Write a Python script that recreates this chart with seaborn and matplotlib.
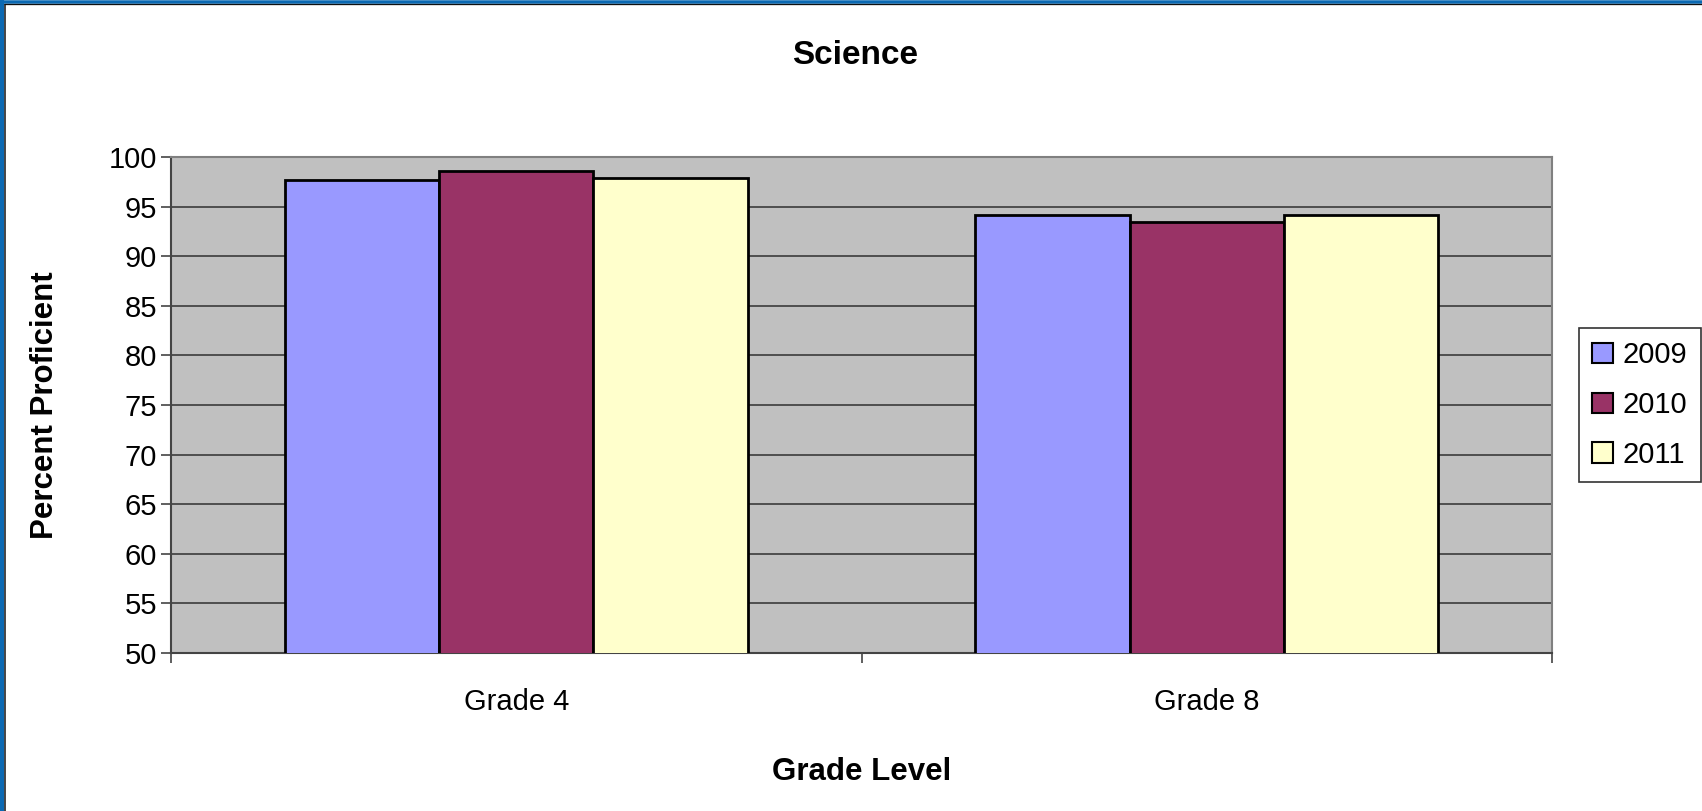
import matplotlib
matplotlib.use("Agg")
import matplotlib.pyplot as plt
from matplotlib.lines import Line2D
import seaborn as sns
import pandas as pd

categories = ["Grade 4", "Grade 8"]
years = ["2009", "2010", "2011"]
values_2009 = [97.7, 94.2]
values_2010 = [98.6, 93.4]
values_2011 = [97.9, 94.2]
yticks = list(range(50, 101, 5))
colors = ["#9999FF", "#993366", "#FFFFCC"]

rows = []
for yr, vals in zip(years, [values_2009, values_2010, values_2011]):
    for c, v in zip(categories, vals):
        rows.append({"Grade": c, "Year": yr, "Value": v})
df = pd.DataFrame(rows)

sns.set_theme(style="white")
plt.rcParams["font.family"] = ["Liberation Sans", "DejaVu Sans"]
plt.rcParams["text.color"] = "black"
plt.rcParams["axes.labelcolor"] = "black"
plt.rcParams["xtick.color"] = "black"
plt.rcParams["ytick.color"] = "black"

W, H = 1702, 811
fig = plt.figure(figsize=(W/100, H/100), dpi=100)
ax = fig.add_axes([171/W, 1 - 653/H, (1552-171)/W, (653-157)/H])
ax.set_facecolor("#C0C0C0")

sns.barplot(data=df, x="Grade", y="Value", hue="Year", palette=colors,
            width=0.67, edgecolor="black", linewidth=2, ax=ax,
            saturation=1, errorbar=None, zorder=3)

ax.set_ylim(50, 100)
ax.set_xlim(-0.5, 1.5)
ax.set_yticks(yticks)
ax.yaxis.grid(True, color="#303030", linewidth=1.1, zorder=0)
ax.set_axisbelow(True)
ax.tick_params(axis="y", which="major", length=7, width=1.2, color="#444444",
               labelcolor="black", direction="out", left=True, labelsize=21, pad=3)
ax.tick_params(axis="x", which="major", length=0, labelsize=21, pad=25,
               labelcolor="black")
ax.set_xticks([-0.5, 0.5, 1.5], minor=True)
ax.tick_params(axis="x", which="minor", length=7, width=1.2, color="#444444",
               direction="out", bottom=True)
for s in ax.spines.values():
    s.set_color("#808080")
    s.set_linewidth(1.5)
ax.spines["left"].set_color("#444444")
ax.spines["bottom"].set_color("#444444")

ax.set_xlabel("Grade Level", fontsize=22.5, fontweight="bold", color="black")
ax.set_ylabel("Percent Proficient", fontsize=22.5, fontweight="bold", color="black")
ax.xaxis.set_label_coords(0.5, (653-757)/496)
ax.yaxis.set_label_coords((60-171)/1381, 0.5)

fig.text(855/W, 1 - 55/H, "Science", fontsize=24, fontweight="bold",
         ha="center", va="center", color="black")

leg = ax.legend(loc="upper left", bbox_to_anchor=(1579/W, 1 - 328/H),
                bbox_transform=fig.transFigure, fontsize=21, frameon=True,
                fancybox=False, edgecolor="black", handlelength=0.7,
                handleheight=0.7, handletextpad=0.35, labelspacing=0.75,
                borderpad=0.45, borderaxespad=0)
leg.get_frame().set_linewidth(1.2)
for t in leg.get_texts():
    t.set_color("black")
for h in leg.legend_handles:
    h.set_linewidth(1.5)
    h.set_edgecolor("black")

# Frame along top and left edges (blue band with thin dark inner line)
blue = "#0B69B3"
fig.add_artist(Line2D([0, 1], [1 - 1.75/H, 1 - 1.75/H], transform=fig.transFigure,
                      color=blue, linewidth=3.5*0.72, solid_capstyle="butt"))
fig.add_artist(Line2D([2/W, 2/W], [0, 1], transform=fig.transFigure,
                      color=blue, linewidth=4.2*0.72, solid_capstyle="butt"))
fig.add_artist(Line2D([4/W, 1], [1 - 4/H, 1 - 4/H], transform=fig.transFigure,
                      color="#101010", linewidth=1.3*0.72, solid_capstyle="butt"))
fig.add_artist(Line2D([4.8/W, 4.8/W], [0, 1 - 4/H], transform=fig.transFigure,
                      color="#101010", linewidth=1.5*0.72, solid_capstyle="butt"))

fig.savefig("out.png", dpi=100)
